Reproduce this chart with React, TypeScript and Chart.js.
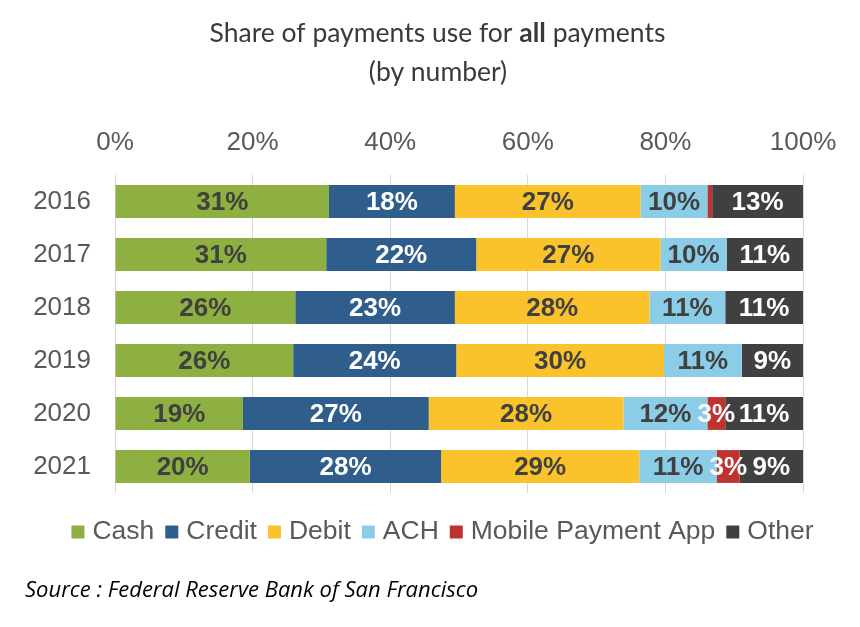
import React, { useEffect, useRef } from "react";
import { Chart, registerables } from "chart.js";

Chart.register(...registerables);

const categories = ["2016", "2017", "2018", "2019", "2020", "2021"];
const seriesNames = ["Cash", "Credit", "Debit", "ACH", "Mobile Payment App", "Other"];
const cash = [31.1, 30.7, 26.2, 25.9, 18.6, 19.6];
const credit = [18.3, 21.8, 23.2, 23.7, 27.0, 27.8];
const debit = [27.0, 26.8, 28.3, 30.2, 28.3, 28.8];
const ach = [9.7, 9.6, 11.0, 11.3, 12.2, 11.3];
const mobile = [0.7, 0, 0, 0, 2.6, 3.3];
const other = [13.2, 11.1, 11.3, 8.9, 11.3, 9.2];
const xTicks = [0, 20, 40, 60, 80, 100];

const colors = ["#8DB041", "#2F5D8C", "#FAC22B", "#8BCDE6", "#BE3330", "#404040"];
const labelColors = ["#404040", "#FFFFFF", "#404040", "#404040", "#FFFFFF", "#FFFFFF"];

const TICK_FONT = "'Liberation Sans', Arial, sans-serif";
const TITLE_FONT = "Lato, 'Open Sans', sans-serif";

const barLabels = {
  id: "barLabels",
  afterDatasetsDraw(chart: any) {
    const ctx = chart.ctx;
    ctx.save();
    ctx.font = `bold 26px ${TICK_FONT}`;
    ctx.textAlign = "center";
    ctx.textBaseline = "middle";
    chart.data.datasets.forEach((ds: any, di: number) => {
      const meta = chart.getDatasetMeta(di);
      meta.data.forEach((el: any, i: number) => {
        const v = ds.data[i];
        if (v < 1.5) return;
        const p = el.getCenterPoint();
        ctx.fillStyle = labelColors[di];
        ctx.fillText(`${Math.round(v)}%`, p.x, p.y + 1);
      });
    });
    ctx.restore();
  },
};

const decorations = {
  id: "decorations",
  afterDraw(chart: any) {
    const ctx = chart.ctx;
    ctx.save();
    // Title line 1 with bold "all"
    const parts = [
      { t: "Share of payments use for ", b: false },
      { t: "all", b: true },
      { t: " payments", b: false },
    ];
    const size = 26.5;
    const fontFor = (b: boolean) => `${b ? "bold" : "normal"} ${size}px ${TITLE_FONT}`;
    let total = 0;
    parts.forEach((p) => {
      ctx.font = fontFor(p.b);
      total += ctx.measureText(p.t).width;
    });
    let x = 437.5 - total / 2;
    ctx.fillStyle = "#3A3A3A";
    ctx.textBaseline = "middle";
    ctx.textAlign = "left";
    parts.forEach((p) => {
      ctx.font = fontFor(p.b);
      ctx.fillText(p.t, x, 33);
      x += ctx.measureText(p.t).width;
    });
    ctx.font = fontFor(false);
    ctx.textAlign = "center";
    ctx.fillText("(by number)", 438, 72);

    // Legend
    ctx.font = `26.5px ${TICK_FONT}`;
    const box = 13;
    const gapText = 8;
    const gapItem = 11;
    const items = chart.data.datasets.map((ds: any) => ({
      label: ds.label,
      color: ds.backgroundColor,
      w: ctx.measureText(ds.label).width,
    }));
    let lw = 0;
    items.forEach((it: any, i: number) => {
      lw += box + gapText + it.w + (i < items.length - 1 ? gapItem : 0);
    });
    let lx = 442.5 - lw / 2;
    const ly = 531;
    ctx.textAlign = "left";
    ctx.textBaseline = "middle";
    items.forEach((it: any) => {
      ctx.fillStyle = it.color;
      ctx.fillRect(lx, ly - box / 2 + 1, box, box);
      lx += box + gapText;
      ctx.fillStyle = "#595959";
      ctx.fillText(it.label, lx, ly + 1);
      lx += it.w + gapItem;
    });

    // Source
    ctx.font = `italic 22px 'Open Sans', sans-serif`;
    ctx.fillStyle = "#000000";
    ctx.textAlign = "left";
    ctx.fillText("Source : Federal Reserve Bank of San Francisco", 25, 591);
    ctx.restore();
  },
};

export default function App() {
  const canvasRef = useRef<HTMLCanvasElement | null>(null);

  useEffect(() => {
    const series = [cash, credit, debit, ach, mobile, other];
    const chart = new Chart(canvasRef.current as HTMLCanvasElement, {
      type: "bar",
      data: {
        labels: categories,
        datasets: series.map((d, i) => ({
          label: seriesNames[i],
          data: d,
          backgroundColor: colors[i],
          borderWidth: 0,
          categoryPercentage: 1,
          barPercentage: 0.62,
        })),
      },
      options: {
        indexAxis: "y",
        responsive: false,
        animation: false,
        layout: { padding: { top: 100, left: 0, right: 57, bottom: 134 } },
        plugins: {
          legend: { display: false },
          title: { display: false },
          tooltip: { enabled: false },
        },
        scales: {
          x: {
            position: "top",
            stacked: true,
            min: 0,
            max: 100,
            afterFit: (s: any) => {
              s.height = 75;
            },
            afterBuildTicks: (s: any) => {
              s.ticks = xTicks.map((v) => ({ value: v }));
            },
            ticks: {
              callback: (v: any) => `${v}%`,
              color: "#595959",
              font: { size: 26, family: TICK_FONT },
              padding: 17,
              maxRotation: 0,
            },
            grid: { color: "#D9D9D9", drawTicks: false, lineWidth: 1 },
            border: { display: false },
          },
          y: {
            stacked: true,
            afterFit: (s: any) => {
              s.width = 115;
            },
            ticks: {
              color: "#595959",
              font: { size: 26, family: TICK_FONT },
              padding: 24,
            },
            grid: { display: false, drawTicks: false },
            border: { display: false },
          },
        },
      },
      plugins: [barLabels, decorations],
    });
    return () => chart.destroy();
  }, []);

  return (
    <div style={{ position: "absolute", left: 0, top: 0, width: 860, height: 627, background: "#fff" }}>
      <canvas ref={canvasRef} width={860} height={627} />
    </div>
  );
}
